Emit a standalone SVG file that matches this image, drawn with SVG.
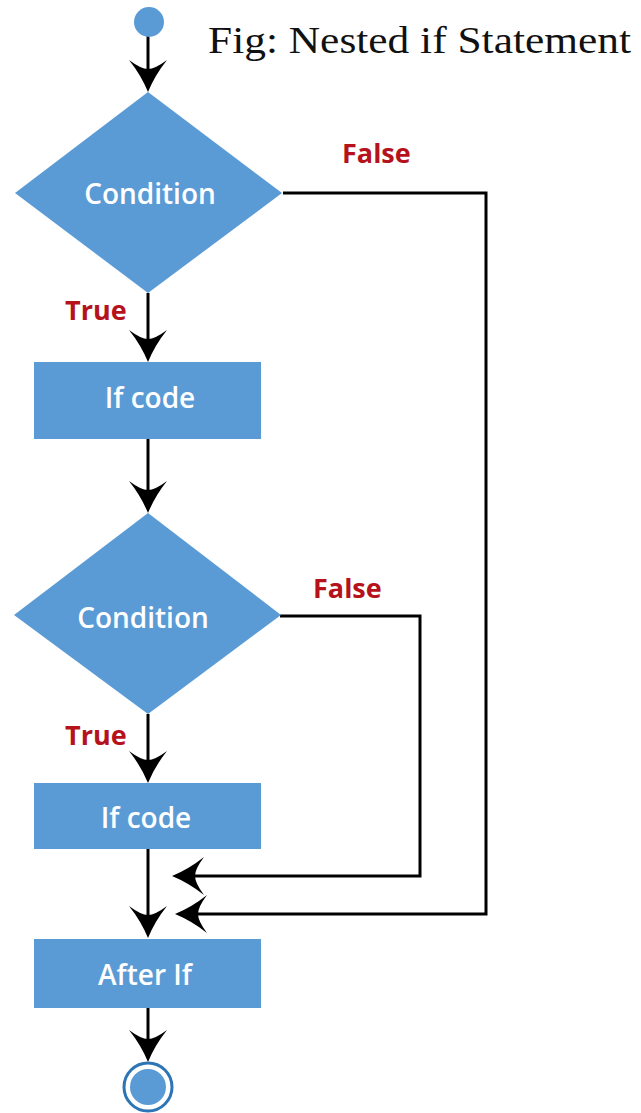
<svg xmlns="http://www.w3.org/2000/svg" width="641" height="1113" viewBox="0 0 641 1113">
<style>
.shape{fill:#5B9BD5;}
.lbl{font-family:"Open Sans","Liberation Sans",sans-serif;font-weight:600;font-size:28px;fill:#FFFFFF;text-anchor:middle;}
.tf{font-family:"Open Sans","Liberation Sans",sans-serif;font-weight:700;font-size:27px;fill:#B5121B;}
.title{font-family:"Liberation Serif","DejaVu Serif",serif;font-size:37px;fill:#111111;}
.conn{fill:none;stroke:#000000;stroke-width:3;}
</style>
<defs>
<marker id="ah" viewBox="0 0 32 38" refX="10" refY="19" markerWidth="32" markerHeight="38" markerUnits="userSpaceOnUse" orient="auto">
<path d="M32,19 Q15,12 0,0 Q9,12 9,19 Q9,26 0,38 Q15,26 32,19 Z" fill="#000000"/>
</marker>
</defs>
<rect width="641" height="1113" fill="#FFFFFF"/>
<text class="title" x="208" y="53" textLength="423" lengthAdjust="spacingAndGlyphs">Fig: Nested if Statement</text>
<g id="connectors">
<path class="conn" d="M148,36 V70" marker-end="url(#ah)"/>
<path class="conn" d="M148,293 V340" marker-end="url(#ah)"/>
<path class="conn" d="M148,439 V491" marker-end="url(#ah)"/>
<path class="conn" d="M148,714 V761" marker-end="url(#ah)"/>
<path class="conn" d="M148,849 V916" marker-end="url(#ah)"/>
<path class="conn" d="M148,1008 V1040" marker-end="url(#ah)"/>
<path class="conn" d="M280,616 H420 V876 H194" marker-end="url(#ah)"/>
<path class="conn" d="M283,193 H486 V914 H197" marker-end="url(#ah)"/>
</g>
<g id="start"><circle class="shape" cx="149" cy="22" r="15"/></g>
<g id="cond1">
<polygon class="shape" points="148,92 282,193 148,293 15,193"/>
<text class="lbl" x="150" y="204">Condition</text>
</g>
<g id="true1"><text class="tf" x="65" y="320">True</text></g>
<g id="false1"><text class="tf" x="342" y="163">False</text></g>
<g id="ifcode1">
<rect class="shape" x="34" y="362" width="227" height="77"/>
<text class="lbl" x="150" y="408">If code</text>
</g>
<g id="cond2">
<polygon class="shape" points="148,513 281,615 148,714 14,615"/>
<text class="lbl" x="143" y="628">Condition</text>
</g>
<g id="true2"><text class="tf" x="65" y="745">True</text></g>
<g id="false2"><text class="tf" x="313" y="598">False</text></g>
<g id="ifcode2">
<rect class="shape" x="34" y="783" width="227" height="66"/>
<text class="lbl" x="146" y="828">If code</text>
</g>
<g id="afterif">
<rect class="shape" x="34" y="939" width="227" height="69"/>
<text class="lbl" x="145" y="985">After If</text>
</g>
<g id="end">
<circle cx="148" cy="1087" r="24" fill="#FFFFFF" stroke="#2E75B6" stroke-width="3"/>
<circle class="shape" cx="148" cy="1087" r="18"/>
</g>
</svg>
